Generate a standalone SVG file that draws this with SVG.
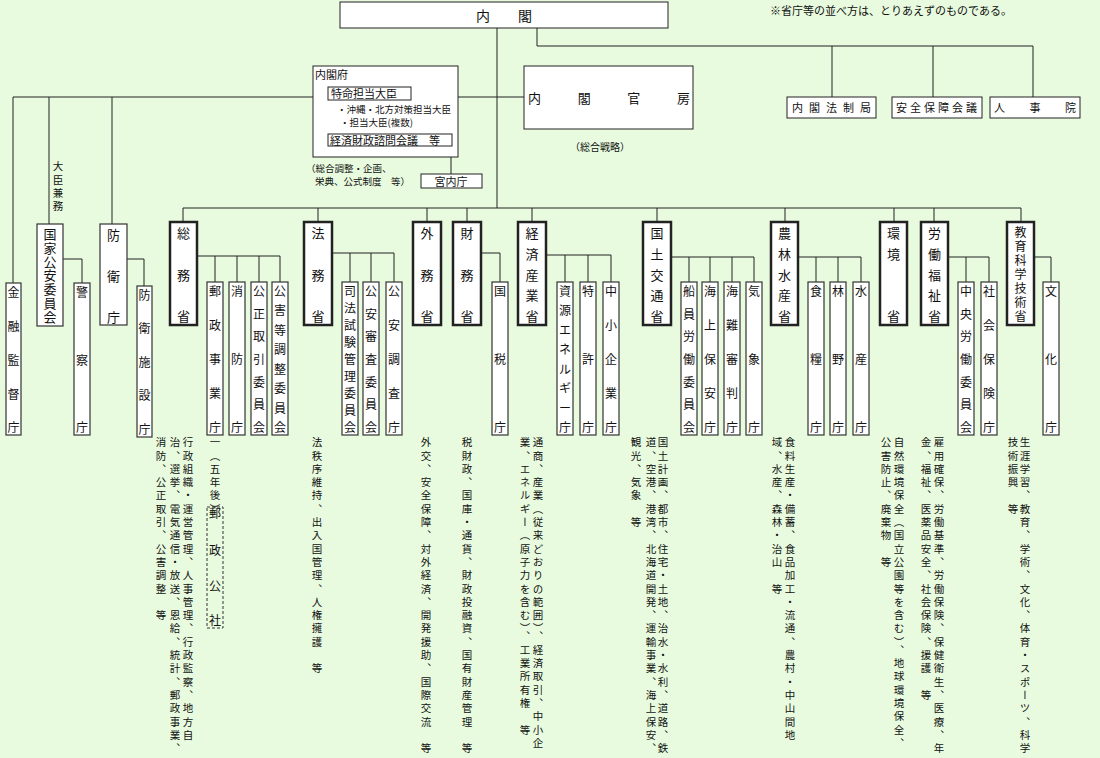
<svg xmlns="http://www.w3.org/2000/svg" width="1100" height="758" viewBox="0 0 1100 758">
<style>
text{font-family:"Noto Sans CJK JP","Noto Sans CJK SC",sans-serif;fill:#111}
.bg{fill:#e8fbdf}
.b{fill:#fff;stroke:#222;stroke-width:1}
.s{fill:#fff;stroke:#333;stroke-width:1.2}
.m{fill:#fff;stroke:#222;stroke-width:2.5}
.t{font-size:12px;text-anchor:middle}
.mt{font-size:13px;text-anchor:middle}
.l{font-size:11px}
.d{font-size:10.5px;writing-mode:vertical-rl;letter-spacing:2.8px}
#conn path{fill:none;stroke:#222;stroke-width:1}
</style>
<rect class="bg" x="0" y="0" width="1100" height="758"/>
<g id="conn">
<path d="M497 28V208M537 28V46H1033M832 46V97M933 46V97M1033 46V97"/>
<path d="M13 97H313M458 97H524M13 97V283M49 97V224M112 97V224M451 157V174"/>
<path d="M183 208H1021M183 208V222M318 208V222M427 208V222M467 208V222M532 208V222M657 208V222M785 208V222M894 208V222M934 208V222M1021 208V222"/>
<path d="M196 256H280M215 256V282M237 256V282M259 256V282M280 256V282"/>
<path d="M63 259H82V283M127 259H144V286"/>
<path d="M332 253H394M350 253V282M371 253V282M394 253V282M481 253H500V282"/>
<path d="M546 255H611M565 255V282M588 255V282M611 255V282"/>
<path d="M671 257H754M689 257V282M710 257V282M732 257V282M754 257V282"/>
<path d="M798 257H861M816 257V282M838 257V282M861 257V282"/>
<path d="M948 257H989M966 257V282M989 257V282M1034 257H1051V282"/>
</g>
<g id="naikaku"><rect class="b" x="340" y="2" width="328" height="26"/><text x="504" y="21" font-size="14" text-anchor="middle">内　　閣</text></g>
<text class="l" x="770" y="15" font-size="10.5">※省庁等の並べ方は、とりあえずのものである。</text>
<g id="hoseikyoku"><rect class="b" x="787" y="97" width="89" height="21"/><text class="l" x="792" y="112" textLength="79" lengthAdjust="spacing">内閣法制局</text></g>
<g id="anzen"><rect class="b" x="892" y="97" width="90" height="21"/><text class="l" x="896" y="112" textLength="81" lengthAdjust="spacing">安全保障会議</text></g>
<g id="jinjiin"><rect class="b" x="990" y="97" width="90" height="21"/><text class="l" x="994" y="112" textLength="82" lengthAdjust="spacing">人事院</text></g>
<g id="naikakufu"><rect class="b" x="313" y="66" width="145" height="91"/>
<text class="l" x="315" y="79">内閣府</text>
<rect class="b" x="328" y="87" width="83" height="13"/><text class="l" x="331" y="98">特命担当大臣</text>
<text x="337" y="113" font-size="9.5">・沖縄・北方対策担当大臣</text>
<text x="340" y="126" font-size="9.5">・担当大臣(複数)</text>
<rect class="b" x="328" y="134" width="124" height="12"/><text class="l" x="330" y="145">経済財政諮問会議　等</text>
</g>
<text x="306" y="172" font-size="9.5">（総合調整・企画、</text>
<text x="315" y="185" font-size="9.5">栄典、公式制度　等）</text>
<g id="kunaicho"><rect class="b" x="421" y="174" width="61" height="14"/><text class="l" x="451" y="186" text-anchor="middle">宮内庁</text></g>
<g id="kanbo"><rect class="b" x="524" y="66" width="169" height="63"/><text x="528" y="103" font-size="13" textLength="162" lengthAdjust="spacing">内閣官房</text></g>
<text x="600" y="151" font-size="10" text-anchor="middle">（総合戦略）</text>
<text class="d" x="58" y="161">大臣兼務</text>

<g id="kinyu"><rect class="s" x="6" y="283" width="15" height="152"/><text class="t" x="13.5 13.5 13.5 13.5 13.5" y="297 331 365 399 432">金融監督庁</text></g>
<g id="kokka"><rect class="s" x="37" y="224" width="26" height="102"/><text class="mt" x="50 50 50 50 50 50 50" y="239 253 267 280 294 308 322">国家公安委員会</text></g>
<g id="keisatsu"><rect class="s" x="74" y="283" width="16" height="152"/><text class="t" x="82 82 82" y="297 365 432">警察庁</text></g>
<g id="boei"><rect class="s" x="100" y="224" width="27" height="101"/><text class="mt" x="113.5 113.5 113.5" y="240 281 322">防衛庁</text></g>
<g id="boeishisetsu"><rect class="s" x="137" y="286" width="15" height="151"/><text class="t" x="144.5 144.5 144.5 144.5 144.5" y="300 333 367 400 434">防衛施設庁</text></g>

<g id="somu"><rect class="m" x="170" y="222" width="27" height="103"/><text class="mt" x="183.5 183.5 183.5" y="238 280 321">総務省</text></g>
<g id="yusei"><rect class="s" x="207" y="282" width="16" height="153"/><text class="t" x="215 215 215 215 215" y="296 330 364 398 432">郵政事業庁</text></g>
<g id="shobo"><rect class="s" x="229" y="282" width="16" height="153"/><text class="t" x="237 237 237" y="296 364 432">消防庁</text></g>
<g id="kotori"><rect class="s" x="251" y="282" width="16" height="153"/><text class="t" x="259 259 259 259 259 259 259" y="296 319 341 364 387 409 432">公正取引委員会</text></g>
<g id="kogai"><rect class="s" x="272" y="282" width="16" height="153"/><text class="t" x="280 280 280 280 280 280 280 280" y="296 315 335 354 374 393 413 432">公害等調整委員会</text></g>

<g id="homu"><rect class="m" x="304" y="222" width="28" height="103"/><text class="mt" x="318 318 318" y="238 280 321">法務省</text></g>
<g id="shiho"><rect class="s" x="342" y="282" width="16" height="153"/><text class="t" x="350 350 350 350 350 350 350 350 350" y="296 313 330 347 364 381 398 415 432">司法試験管理委員会</text></g>
<g id="koanshinsa"><rect class="s" x="363" y="282" width="16" height="153"/><text class="t" x="371 371 371 371 371 371 371" y="296 319 341 364 387 409 432">公安審査委員会</text></g>
<g id="koanchosa"><rect class="s" x="386" y="282" width="16" height="153"/><text class="t" x="394 394 394 394 394" y="296 330 364 398 432">公安調査庁</text></g>

<g id="gaimu"><rect class="m" x="413" y="222" width="28" height="103"/><text class="mt" x="427 427 427" y="238 280 321">外務省</text></g>
<g id="zaimu"><rect class="m" x="453" y="222" width="28" height="103"/><text class="mt" x="467 467 467" y="238 280 321">財務省</text></g>
<g id="kokuzei"><rect class="s" x="492" y="282" width="16" height="153"/><text class="t" x="500 500 500" y="296 364 432">国税庁</text></g>

<g id="keizai"><rect class="m" x="518" y="222" width="28" height="103"/><text class="mt" x="532 532 532 532 532" y="238 259 280 300 321">経済産業省</text></g>
<g id="shigen"><rect class="s" x="557" y="282" width="16" height="153"/><text class="t" x="565 565 565 565 565 565 565 565" y="296 315 335 354 374 393 413 432">資源エネルギー庁</text></g>
<g id="tokkyo"><rect class="s" x="580" y="282" width="16" height="153"/><text class="t" x="588 588 588" y="296 364 432">特許庁</text></g>
<g id="chusho"><rect class="s" x="603" y="282" width="16" height="153"/><text class="t" x="611 611 611 611 611" y="296 330 364 398 432">中小企業庁</text></g>

<g id="kokudo"><rect class="m" x="643" y="222" width="28" height="103"/><text class="mt" x="657 657 657 657 657" y="238 259 280 300 321">国土交通省</text></g>
<g id="senin"><rect class="s" x="681" y="282" width="16" height="153"/><text class="t" x="689 689 689 689 689 689 689" y="296 319 341 364 387 409 432">船員労働委員会</text></g>
<g id="kaijo"><rect class="s" x="702" y="282" width="16" height="153"/><text class="t" x="710 710 710 710 710" y="296 330 364 398 432">海上保安庁</text></g>
<g id="kainan"><rect class="s" x="724" y="282" width="16" height="153"/><text class="t" x="732 732 732 732 732" y="296 330 364 398 432">海難審判庁</text></g>
<g id="kisho"><rect class="s" x="746" y="282" width="16" height="153"/><text class="t" x="754 754 754" y="296 364 432">気象庁</text></g>

<g id="norin"><rect class="m" x="771" y="222" width="27" height="103"/><text class="mt" x="784.5 784.5 784.5 784.5 784.5" y="238 259 280 300 321">農林水産省</text></g>
<g id="shokuryo"><rect class="s" x="808" y="282" width="16" height="153"/><text class="t" x="816 816 816" y="296 364 432">食糧庁</text></g>
<g id="rinya"><rect class="s" x="830" y="282" width="16" height="153"/><text class="t" x="838 838 838" y="296 364 432">林野庁</text></g>
<g id="suisan"><rect class="s" x="853" y="282" width="16" height="153"/><text class="t" x="861 861 861" y="296 364 432">水産庁</text></g>

<g id="kankyo"><rect class="m" x="880" y="222" width="27" height="103"/><text class="mt" x="893.5 893.5 893.5" y="238 259 321">環境省</text></g>
<g id="rodo"><rect class="m" x="921" y="222" width="27" height="103"/><text class="mt" x="934.5 934.5 934.5 934.5 934.5" y="238 259 280 300 321">労働福祉省</text></g>
<g id="churoi"><rect class="s" x="958" y="282" width="16" height="153"/><text class="t" x="966 966 966 966 966 966 966" y="296 319 341 364 387 409 432">中央労働委員会</text></g>
<g id="shaho"><rect class="s" x="981" y="282" width="16" height="153"/><text class="t" x="989 989 989 989 989" y="296 330 364 398 432">社会保険庁</text></g>

<g id="kyoiku"><rect class="m" x="1007" y="222" width="27" height="103"/><text class="t" x="1020.5 1020.5 1020.5 1020.5 1020.5 1020.5 1020.5" y="237 251 265 279 293 307 321">教育科学技術省</text></g>
<g id="bunka"><rect class="s" x="1043" y="282" width="16" height="153"/><text class="t" x="1051 1051 1051" y="296 364 432">文化庁</text></g>

<g id="yuseikosha"><rect x="207" y="507" width="16" height="121" fill="none" stroke="#333" stroke-dasharray="3,2"/><text class="t" x="215 215 215 215" y="518 555 591 625">郵政公社</text></g>

<g id="desc">
<text class="d" x="188" y="437">行政組織・運営管理、人事管理、行政監察、地方自</text>
<text class="d" x="175" y="437">治、選挙、電気通信・放送、恩給、統計、郵政事業、</text>
<text class="d" x="161" y="437">消防、公正取引、公害調整　等</text>
<text class="d" x="215" y="437">一（五年後）</text>
<text class="d" x="317" y="437">法秩序維持、出入国管理、人権擁護　等</text>
<text class="d" x="426" y="437">外交、安全保障、対外経済、開発援助、国際交流　等</text>
<text class="d" x="467" y="437">税財政、国庫・通貨、財政投融資、国有財産管理　等</text>
<text class="d" x="538" y="437">通商、産業（従来どおりの範囲）、経済取引、中小企</text>
<text class="d" x="525" y="437">業、エネルギー（原子力を含む）、工業所有権　等</text>
<text class="d" x="663" y="437">国土計画、都市、住宅・土地、治水・水利、道路、鉄</text>
<text class="d" x="651" y="437">道、空港、港湾、北海道開発、運輸事業、海上保安、</text>
<text class="d" x="636" y="437">観光、気象　等</text>
<text class="d" x="790" y="437">食料生産・備蓄、食品加工・流通、農村・中山間地</text>
<text class="d" x="777" y="437">域、水産、森林・治山　等</text>
<text class="d" x="899" y="437">自然環境保全（国立公園等を含む）、地球環境保全、</text>
<text class="d" x="886" y="437">公害防止、廃棄物　等</text>
<text class="d" x="939" y="437">雇用確保、労働基準、労働保険、保健衛生、医療、年</text>
<text class="d" x="926" y="437">金、福祉、医薬品安全、社会保険、援護　等</text>
<text class="d" x="1025" y="437">生涯学習、教育、学術、文化、体育・スポーツ、科学</text>
<text class="d" x="1013" y="437">技術振興　等</text>
</g>
</svg>
